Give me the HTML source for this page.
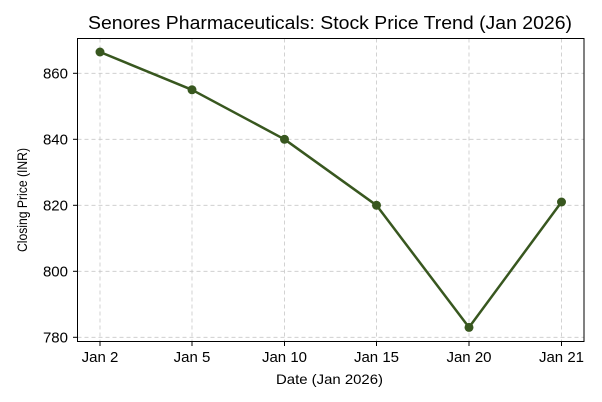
<!DOCTYPE html>
<html><head><meta charset="utf-8"><style>body{margin:0;background:#fff}svg{display:block}text{font-family:"Liberation Sans",sans-serif;fill:#000}</style></head>
<body>
<svg width="602" height="402" viewBox="0 0 602 402">
<rect width="602" height="402" fill="#fff"/>
<g stroke="#c8c8c8" stroke-width="0.8" stroke-dasharray="4,3">
<line x1="100" y1="38.5" x2="100" y2="341.5"/>
<line x1="192" y1="38.5" x2="192" y2="341.5"/>
<line x1="284.5" y1="38.5" x2="284.5" y2="341.5"/>
<line x1="376.5" y1="38.5" x2="376.5" y2="341.5"/>
<line x1="469" y1="38.5" x2="469" y2="341.5"/>
<line x1="561.5" y1="38.5" x2="561.5" y2="341.5"/>
<line x1="77.5" y1="73.3" x2="584" y2="73.3"/>
<line x1="77.5" y1="139.3" x2="584" y2="139.3"/>
<line x1="77.5" y1="205.3" x2="584" y2="205.3"/>
<line x1="77.5" y1="271.3" x2="584" y2="271.3"/>
<line x1="77.5" y1="337.3" x2="584" y2="337.3"/>
</g>
<rect x="77.5" y="38.5" width="506.5" height="303" fill="none" stroke="#000" stroke-width="1"/>
<g stroke="#000" stroke-width="1">
<line x1="100" y1="341.5" x2="100" y2="346"/><line x1="192" y1="341.5" x2="192" y2="346"/><line x1="284.5" y1="341.5" x2="284.5" y2="346"/><line x1="376.5" y1="341.5" x2="376.5" y2="346"/><line x1="469" y1="341.5" x2="469" y2="346"/><line x1="561.5" y1="341.5" x2="561.5" y2="346"/>
<line x1="73" y1="73.3" x2="77.5" y2="73.3"/><line x1="73" y1="139.3" x2="77.5" y2="139.3"/><line x1="73" y1="205.3" x2="77.5" y2="205.3"/><line x1="73" y1="271.3" x2="77.5" y2="271.3"/><line x1="73" y1="337.3" x2="77.5" y2="337.3"/>
</g>
<g font-size="15" text-anchor="end">
<text x="68" y="78.5">860</text><text x="68" y="144.5">840</text><text x="68" y="210.5">820</text><text x="68" y="276.5">800</text><text x="68" y="342.5">780</text>
</g>
<g font-size="15" text-anchor="middle">
<text x="100" y="362">Jan 2</text><text x="192" y="362">Jan 5</text><text x="284.5" y="362">Jan 10</text><text x="376.5" y="362">Jan 15</text><text x="469" y="362">Jan 20</text><text x="561.5" y="362">Jan 21</text>
</g>
<text x="276" y="384" font-size="14" textLength="107" lengthAdjust="spacingAndGlyphs">Date (Jan 2026)</text>
<text transform="translate(27,252) rotate(-90)" font-size="14" textLength="104" lengthAdjust="spacingAndGlyphs">Closing Price (INR)</text>
<text x="88" y="29" font-size="18" textLength="484" lengthAdjust="spacingAndGlyphs">Senores Pharmaceuticals: Stock Price Trend (Jan 2026)</text>
<polyline points="100,52 192,89.8 284.5,139.3 376.5,205.3 469,327.4 561.5,202" fill="none" stroke="#38571f" stroke-width="2.5" stroke-linejoin="round"/>
<g fill="#38571f">
<circle cx="100" cy="52" r="4.5"/><circle cx="192" cy="89.8" r="4.5"/><circle cx="284.5" cy="139.3" r="4.5"/><circle cx="376.5" cy="205.3" r="4.5"/><circle cx="469" cy="327.4" r="4.5"/><circle cx="561.5" cy="202" r="4.5"/>
</g>
</svg>
</body></html>
